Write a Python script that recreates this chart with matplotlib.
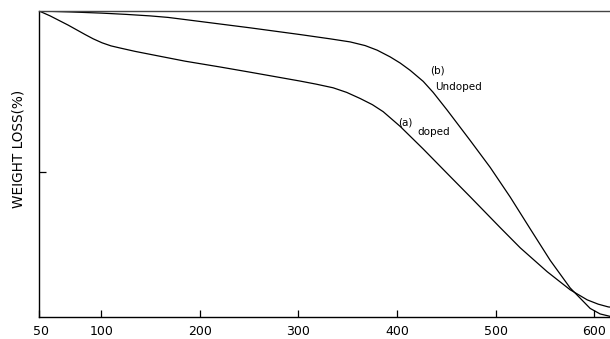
import matplotlib
matplotlib.use("Agg")
import matplotlib.pyplot as plt
import matplotlib.transforms as mtransforms

# Temperature (°C) and weight (%)
temp_undoped = [37.1, 68.6, 101.0, 125.0, 149.7, 168.0, 185.2, 251.1, 301.8, 332.3, 352.5,
                367.7, 379.9, 393.1, 403.2, 413.4, 426.6, 436.7, 450.9, 474.2, 494.5,
                514.8, 535.1, 555.4, 575.6, 595.9, 606.0, 616.2]
wt_undoped = [100, 99.7, 99.3, 98.9, 98.4, 97.9, 97.2, 94.5, 92.3, 90.9, 89.9,
              88.7, 87.2, 85.0, 83.0, 80.6, 77.0, 73.4, 67.6, 57.7, 48.9,
              39.2, 28.8, 18.5, 9.5, 2.8, 1.0, 0.2]

temp_doped = [37.1, 48.3, 66.5, 83.8, 92.0, 101.0, 110.0, 119.3, 134.5, 159.8, 185.2,
              220.7, 251.1, 301.8, 318.0, 335.3, 349.0, 362.7, 375.0, 386.0, 403.2,
              426.6, 454.0, 474.2, 504.7, 525.0, 552.3, 575.6, 592.9, 604.0, 614.2, 617.0]
wt_doped = [100, 98.4, 95.4, 92.3, 90.9, 89.6, 88.6, 87.9, 86.8, 85.2, 83.6,
            81.7, 80.0, 77.1, 76.1, 74.9, 73.4, 71.4, 69.4, 67.1, 62.3,
            54.9, 45.9, 39.3, 29.2, 22.6, 14.8, 8.9, 5.6, 4.2, 3.3, 3.2]

xtick_pos = [37, 100, 200, 300, 400, 500, 600]
xtick_labels = ["50", "100", "200", "300", "400", "500", "600"]
ytick_pos = [47.4]

fig = plt.figure(figsize=(6.10, 3.39), dpi=100)
ax = fig.add_axes([39/610, 22/339, 571/610, 306/339])

ax.plot(temp_undoped, wt_undoped, color="black", lw=0.9)
ax.plot(temp_doped, wt_doped, color="black", lw=0.9)

ax.set_xlim(37, 616)
ax.set_ylim(0, 100)

ax.set_xticks(xtick_pos)
ax.set_xticklabels(xtick_labels, fontsize=9)
ax.set_yticks(ytick_pos)
ax.set_yticklabels([])
ax.tick_params(axis="both", direction="in", length=5, width=0.9)
ax.tick_params(axis="x", pad=6)
offset = mtransforms.ScaledTranslation(2.5/100, 0, fig.dpi_scale_trans)
for lab in ax.get_xticklabels():
    if lab.get_text() == "50":
        lab.set_transform(lab.get_transform() + offset)

ax.spines["right"].set_visible(False)
for s in ["left", "bottom", "top"]:
    ax.spines[s].set_linewidth(1.0)
ax.spines["top"].set_color("#444444")

ax.set_ylabel("WEIGHT LOSS(%)", fontsize=9.8)
ax.yaxis.set_label_coords(-0.024, 0.55)

ax.text(440.8, 80.7, "(b)", fontsize=7.5, ha="center", va="center")
ax.text(438.7, 75.2, "Undoped", fontsize=7.5, ha="left", va="center")
ax.text(408.3, 63.7, "(a)", fontsize=7.5, ha="center", va="center")
ax.text(420.5, 60.5, "doped", fontsize=7.5, ha="left", va="center")

fig.savefig("out.png", dpi=100)
